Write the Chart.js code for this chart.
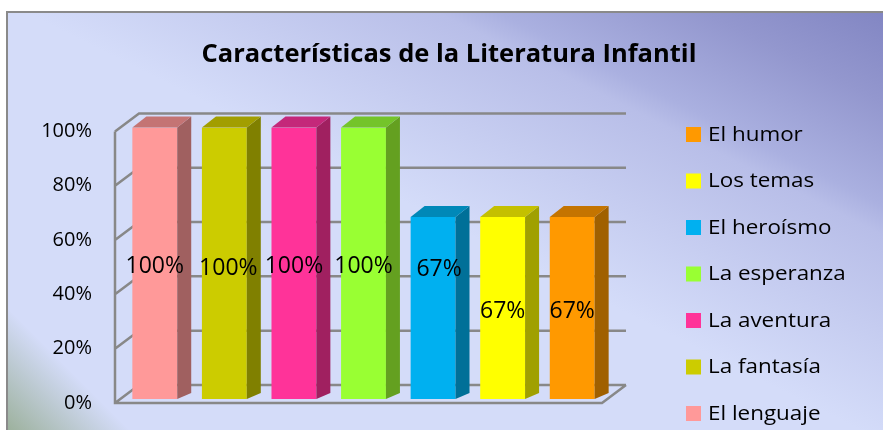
<!DOCTYPE html>
<html><head><meta charset="utf-8">
<script src="https://cdn.jsdelivr.net/npm/chart.js@4.4.1/dist/chart.umd.min.js"></script>
<style>html,body{margin:0;padding:0;background:#fff;} canvas{display:block;}</style>
</head><body>
<canvas id="c" width="883" height="430"></canvas>
<script>
// ---- data ----
const categories = ['El lenguaje', 'La fantasía', 'La aventura', 'La esperanza', 'El heroísmo', 'Los temas', 'El humor'];
const percentValues = [100, 100, 100, 100, 67, 67, 67];
const yTicks = [0, 20, 40, 60, 80, 100];
const titleText = 'Características de la Literatura Infantil';

// ---- styles ----
const frontColors = ['#FF9999', '#CCCC00', '#FF3399', '#99FF33', '#00B0F0', '#FFFF00', '#FF9900'];
const sideColors  = ['#A06060', '#808000', '#A02060', '#64A020', '#007098', '#A0A000', '#A06000'];
const topColors   = ['#C47474', '#A29E00', '#C4287A', '#74C42A', '#0088B8', '#C4C000', '#C47400'];
const FONT = '"Open Sans", Lato, sans-serif';
const G = {frontDx: -5, frontDy: 4, backDx: 19, backDy: -14, barDx: 14, barTopDy: -11, barBottomDy: -6};
const labelShift = {1: [4, 2], 4: [6, -42]};

const background = {
  id: 'bg',
  beforeDraw(chart) {
    const ctx = chart.ctx, W = chart.width, H = chart.height;
    ctx.save();
    ctx.fillStyle = '#ffffff';
    ctx.fillRect(0, 0, W, H);
    const g = ctx.createLinearGradient(0, 0, 172, -344);
    g.addColorStop(0, '#D4DCF9');
    g.addColorStop(0.48, '#B8BEE8');
    g.addColorStop(0.55, '#AAB0E0');
    g.addColorStop(0.79, '#9397CE');
    g.addColorStop(1, '#8286C3');
    ctx.fillStyle = g;
    ctx.fillRect(7, 12, W - 7, H - 12);
    const g2 = ctx.createLinearGradient(0, 300, -65, 365);
    g2.addColorStop(0, 'rgba(150,172,146,0)');
    g2.addColorStop(1, 'rgba(150,172,146,0.95)');
    ctx.fillStyle = g2;
    ctx.fillRect(7, 12, W - 7, H - 12);
    ctx.strokeStyle = '#8a8a8a';
    ctx.lineWidth = 2;
    ctx.beginPath();
    ctx.moveTo(7, H); ctx.lineTo(7, 12); ctx.lineTo(W, 12);
    ctx.stroke();
    ctx.restore();
  }
};

const frame3d = {
  id: 'frame3d',
  beforeDatasetsDraw(chart) {
    const {ctx, chartArea: a, scales: {y}} = chart;
    ctx.save();
    ctx.strokeStyle = '#888888';
    ctx.lineWidth = 2.5;
    ctx.beginPath();
    y.ticks.forEach(t => {
      const py = y.getPixelForValue(t.value);
      ctx.moveTo(a.left + G.frontDx, py + G.frontDy);
      ctx.lineTo(a.left + G.backDx, py + G.backDy);
      ctx.lineTo(a.right + G.backDx, py + G.backDy);
    });
    ctx.moveTo(a.left + G.frontDx, y.getPixelForValue(y.max) + G.frontDy);
    ctx.lineTo(a.left + G.frontDx, a.bottom + G.frontDy);
    ctx.lineTo(a.right + G.frontDx, a.bottom + G.frontDy);
    ctx.lineTo(a.right + G.backDx, a.bottom + G.backDy);
    ctx.stroke();
    ctx.restore();
  }
};

const bars3d = {
  id: 'bars3d',
  afterDatasetsDraw(chart) {
    const ctx = chart.ctx;
    const meta = chart.getDatasetMeta(0);
    const vals = chart.data.datasets[0].data;
    ctx.save();
    meta.data.forEach((bar, i) => {
      const {x, y, base, width} = bar.getProps(['x', 'y', 'base', 'width'], true);
      const l = x - width / 2, r = x + width / 2;
      ctx.fillStyle = sideColors[i];
      ctx.beginPath();
      ctx.moveTo(r, y);
      ctx.lineTo(r + G.barDx, y + G.barTopDy);
      ctx.lineTo(r + G.barDx, base + G.barBottomDy);
      ctx.lineTo(r, base);
      ctx.closePath();
      ctx.fill();
      ctx.fillStyle = topColors[i];
      ctx.beginPath();
      ctx.moveTo(l, y);
      ctx.lineTo(l + G.barDx, y + G.barTopDy);
      ctx.lineTo(r + G.barDx, y + G.barTopDy);
      ctx.lineTo(r, y);
      ctx.closePath();
      ctx.fill();
    });
    ctx.font = '23px ' + FONT;
    ctx.fillStyle = '#000';
    ctx.textAlign = 'center';
    ctx.textBaseline = 'middle';
    meta.data.forEach((bar, i) => {
      const {x, y, base} = bar.getProps(['x', 'y', 'base'], true);
      const s = labelShift[i] || [0, 0];
      ctx.fillText(vals[i] + '%', x + s[0], (y + base) / 2 + 3 + s[1]);
    });
    ctx.restore();
  }
};

const legendRight = {
  id: 'legendRight',
  afterDraw(chart) {
    const ctx = chart.ctx;
    const labels = chart.data.labels;
    const colors = chart.data.datasets[0].backgroundColor;
    const n = labels.length;
    ctx.save();
    ctx.font = '20px ' + FONT;
    ctx.textAlign = 'left';
    ctx.textBaseline = 'middle';
    for (let k = 0; k < n; k++) {
      const i = n - 1 - k;
      const cy = 134.5 + k * 46.5;
      ctx.fillStyle = colors[i];
      ctx.fillRect(686, cy - 7.5, 15, 15);
      ctx.fillStyle = '#000';
      ctx.save();
      ctx.translate(708, cy + 0.5);
      ctx.scale(1.12, 1);
      ctx.fillText(labels[i], 0, 0);
      ctx.restore();
    }
    ctx.restore();
  }
};

new Chart(document.getElementById('c').getContext('2d'), {
  type: 'bar',
  data: {
    labels: categories,
    datasets: [{
      data: percentValues,
      backgroundColor: frontColors,
      borderWidth: 0,
      barPercentage: 0.645,
      categoryPercentage: 1
    }]
  },
  options: {
    responsive: false,
    animation: false,
    devicePixelRatio: 1,
    layout: {padding: {left: 15, right: 0, top: 0, bottom: 31}},
    plugins: {
      legend: {display: false},
      tooltip: {enabled: false},
      title: {
        display: true,
        text: titleText,
        color: '#000',
        font: {family: FONT, size: 25.5, weight: 'bold', lineHeight: 1.2},
        padding: {top: 39.7, bottom: 57.1}
      }
    },
    scales: {
      x: {display: false},
      y: {
        min: 0, max: 100,
        afterBuildTicks: s => { s.ticks = yTicks.map(v => ({value: v})); },
        afterFit: s => { s.width = 105; s.paddingTop = 0; s.paddingBottom = 0; },
        grid: {display: false, drawTicks: false},
        border: {display: false},
        ticks: {padding: 28, labelOffset: 4, color: '#000', font: {family: FONT, size: 20}, callback: v => v + '%'}
      },
      yR: {
        position: 'right',
        afterFit: s => { s.width = 276; s.paddingTop = 0; s.paddingBottom = 0; },
        grid: {display: false, drawTicks: false},
        border: {display: false},
        ticks: {display: false}
      }
    }
  },
  plugins: [background, frame3d, bars3d, legendRight]
});
</script>
</body></html>
